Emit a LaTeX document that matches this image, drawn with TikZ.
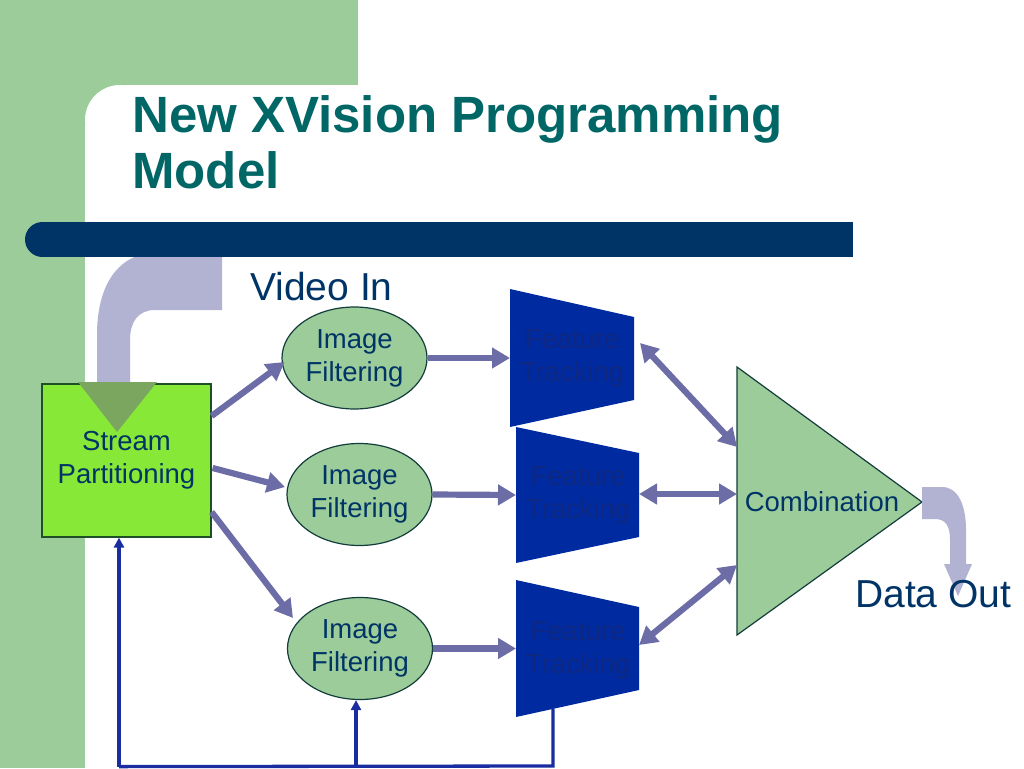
\documentclass[tikz,border=0pt]{standalone}
\usepackage{fontspec}
\setmainfont{Liberation Sans}
\usetikzlibrary{arrows.meta,shapes.geometric,calc}
\definecolor{bggreen}{RGB}{155,204,153}
\definecolor{barblue}{RGB}{0,51,102}
\definecolor{titleteal}{RGB}{0,102,102}
\definecolor{navytext}{RGB}{0,51,102}
\definecolor{lav}{RGB}{178,178,210}
\definecolor{boxgreen}{RGB}{136,232,56}
\definecolor{boxborder}{RGB}{30,80,40}
\definecolor{headgreen}{RGB}{122,166,96}
\definecolor{ellborder}{RGB}{20,60,60}
\definecolor{arrowpurple}{RGB}{108,108,166}
\definecolor{ftblue}{RGB}{0,42,160}
\definecolor{fttextcol}{RGB}{14,40,130}
\definecolor{fbblue}{RGB}{25,45,160}
\newcommand\fsLabel{\fontsize{27.5}{33}\selectfont}
\newcommand\fsBig{\fontsize{39}{44}\selectfont}
\newcommand\fsTitle{\fontsize{51}{56}\selectfont\bfseries}
\begin{document}
\begin{tikzpicture}[x=1pt,y=-1pt,
  titletext/.style={font=\fsTitle, text=titleteal, inner sep=0pt, anchor=base west},
  bigtext/.style={font=\fsBig, text=navytext, inner sep=0pt, anchor=base west},
  spbox/.style={rectangle, fill=boxgreen, draw=boxborder, line width=1.2pt,
    minimum width=169pt, minimum height=153pt, inner sep=0pt,
    font=\fsLabel, text=navytext, align=center},
  ifell/.style={ellipse, fill=bggreen, draw=ellborder, line width=1.2pt,
    minimum width=145pt, minimum height=102pt, inner sep=0pt,
    font=\fsLabel, text=navytext, align=center},
  fttext/.style={font=\fsLabel, text=fttextcol, align=center, inner sep=0pt},
  combtext/.style={font=\fsLabel, text=navytext, inner sep=0pt},
  fat/.style={draw=arrowpurple, line width=6.2pt, -{Triangle[length=18pt,width=20pt]}},
  dfat/.style={draw=arrowpurple, line width=6.2pt, {Triangle[length=18pt,width=20pt]}-{Triangle[length=18pt,width=20pt]}},
  fb/.style={draw=fbblue, line width=3.3pt},
  fbarrow/.style={draw=fbblue, line width=3.3pt, -{Triangle[length=10pt,width=10pt]}}
]
\useasboundingbox (0,0) rectangle (1024,768);
\fill[white] (0,0) rectangle (1024,768);
% background
\fill[bggreen] (0,0) rectangle (358,85);
\fill[bggreen] (0,0) rectangle (85,768);
\fill[bggreen] (85,85) rectangle (125,125);
\fill[white] (120,120) circle[radius=35];
% video in curved arrow (behind bar)
\fill[lav] (97,383) -- (97,335) .. controls (97,285) and (118,252) .. (160,252)
  -- (222,252) -- (222,310) -- (155,310) .. controls (138,310) and (130,322) .. (130,340)
  -- (130,383) -- cycle;
% bar
\fill[barblue] (42.5,222) rectangle (853,257);
\fill[barblue] (42.5,239.5) circle[radius=17.5];
% title
\node[titletext] (t1) at (132,132) {New XVision Programming};
\node[titletext] (t2) at (132,188) {Model};
\node[bigtext] (vin) at (250,300) {Video In};
% stream partitioning
\node[spbox] (sp) at (126.5,460.5) {Stream\\Partitioning};
\fill[headgreen] (78,382) -- (157,382) -- (117,432) -- cycle;
% image filtering
\node[ifell] (if1) at (354.5,358) {Image\\Filtering};
\node[ifell] (if2) at (359.5,494.5) {Image\\Filtering};
\node[ifell] (if3) at (360,648.5) {Image\\Filtering};
% feature tracking
\fill[ftblue] (510,289) -- (634,317) -- (634,400) -- (510,427) -- cycle;
\fill[ftblue] (516,427) -- (639,453) -- (639,537) -- (516,563) -- cycle;
\fill[ftblue] (516,580) -- (639,607) -- (639,690) -- (516,717) -- cycle;
\node[fttext] (ft1) at (572,358) {Feature\\Tracking};
\node[fttext] (ft2) at (578,495) {Feature\\Tracking};
\node[fttext] (ft3) at (578,650) {Feature\\Tracking};
% combination
\draw[fill=bggreen, draw=ellborder, line width=1.2pt] (737,367) -- (922,502) -- (737,635) -- cycle;
\node[combtext] (comb) at (822,502) {Combination};
% data out arrow
\fill[lav] (922,487) -- (942,487) .. controls (958,487) and (966,505) .. (966,530)
  -- (966,564) -- (972,564) -- (958,596) -- (944,564) -- (950,564) -- (950,540)
  .. controls (950,525) and (945,519) .. (935,519) -- (922,519) -- cycle;
\node[bigtext] (dout) at (855,607) {Data Out};
% connectors
\draw[fat] ($(sp.east)+(0,-44.5)$) -- ($(if1)+(-70,4)$);
\draw[fat] ($(sp.east)+(1,7.5)$) -- ($(if2)+(-74.5,-7.5)$);
\draw[fat] ($(sp.east)+(0,51.5)$) -- ($(if3)+(-67,-30.5)$);
\draw[fat] (if1.east) -- ($(ft1)+(-62,0)$);
\draw[fat] (if2.east) -- ($(ft2)+(-62,0)$);
\draw[fat] (if3.east) -- ($(ft3)+(-62,-1.5)$);
\draw[dfat] ($(ft1)+(68,-15)$) -- ($(comb)+(-85,-55)$);
\draw[dfat] ($(ft2)+(61,-1)$) -- ($(comb)+(-85,-8)$);
\draw[dfat] ($(ft3)+(61,-5)$) -- ($(comb)+(-85,63)$);
% feedback
\coordinate (fbtop) at ($(ft3)+(-25,59)$);
\coordinate (fbbot) at ($(ft3)+(-25,116)$);
\coordinate (fbl) at ($(sp.south)+(-7.5,229)$);
\coordinate (fbm) at ($(if3.south)+(-4,66)$);
\draw[fb] (fbtop) -- (fbbot) -- (fbl);
\draw[fbarrow] (fbl) -- ($(sp.south)+(-7.5,0)$);
\draw[fbarrow] (fbm) -- ($(if3.south)+(-4,0)$);
\end{tikzpicture}
\end{document}
